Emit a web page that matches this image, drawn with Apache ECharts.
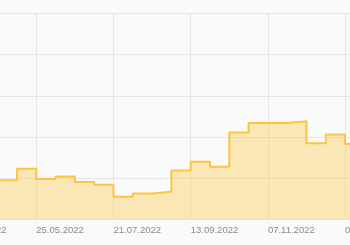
<!DOCTYPE html>
<html>
<head>
<meta charset="utf-8">
<script src="https://cdn.jsdelivr.net/npm/echarts@6/dist/echarts.min.js"></script>
<style>
html,body{margin:0;padding:0;width:350px;height:245px;overflow:hidden;background:#fafafa;}
#c{position:absolute;left:-60px;top:0;width:450px;height:245px;}
</style>
</head>
<body>
<div id="c"></div>
<script>
// Category dates (x axis)
const dates = [
  '29.03.2022','12.04.2022','26.04.2022','10.05.2022',
  '25.05.2022','08.06.2022','22.06.2022','07.07.2022',
  '21.07.2022','04.08.2022','17.08.2022','31.08.2022',
  '13.09.2022','27.09.2022','11.10.2022','25.10.2022',
  '07.11.2022','21.11.2022','05.12.2022','19.12.2022',
  '02.01.2023','16.01.2023'
];
// Series values
const values = [
  95, 95, 96, 123,
  98, 104, 91, 84,
  55, 63, 67, 119,
  140, 128, 211, 234,
  234, 238, 185, 206,
  183, 183
];
// Y axis scale
const yMin = 0, yMax = 500, yStep = 100;

const chart = echarts.init(document.getElementById('c'), null, {renderer: 'canvas'});
chart.setOption({
  animation: false,
  backgroundColor: '#fafafa',
  grid: {left: 19.1, right: 25.6, top: 13.3, bottom: 25.5, containLabel: false, outerBoundsMode: 'none'},
  xAxis: {
    type: 'category',
    data: dates,
    boundaryGap: false,
    axisLine: {show: false},
    axisTick: {show: false},
    axisLabel: {
      interval: 3,
      align: 'left',
      margin: 6,
      color: '#8a8a8a',
      fontSize: 9.5,
      fontFamily: 'Liberation Sans Narrow, Arial Narrow, sans-serif'
    },
    splitLine: {show: true, interval: 3, lineStyle: {color: '#e6e6e6', width: 1}}
  },
  yAxis: {
    type: 'value',
    min: yMin, max: yMax, interval: yStep,
    axisLabel: {show: false},
    axisLine: {show: false},
    axisTick: {show: false},
    splitLine: {show: true, lineStyle: {color: '#e6e6e6', width: 1}}
  },
  series: [{
    type: 'line',
    step: 'end',
    data: values,
    symbol: 'none',
    lineStyle: {color: '#fdc53f', width: 2},
    areaStyle: {color: 'rgba(253,197,61,0.52)'}
  }]
});
</script>
</body>
</html>
